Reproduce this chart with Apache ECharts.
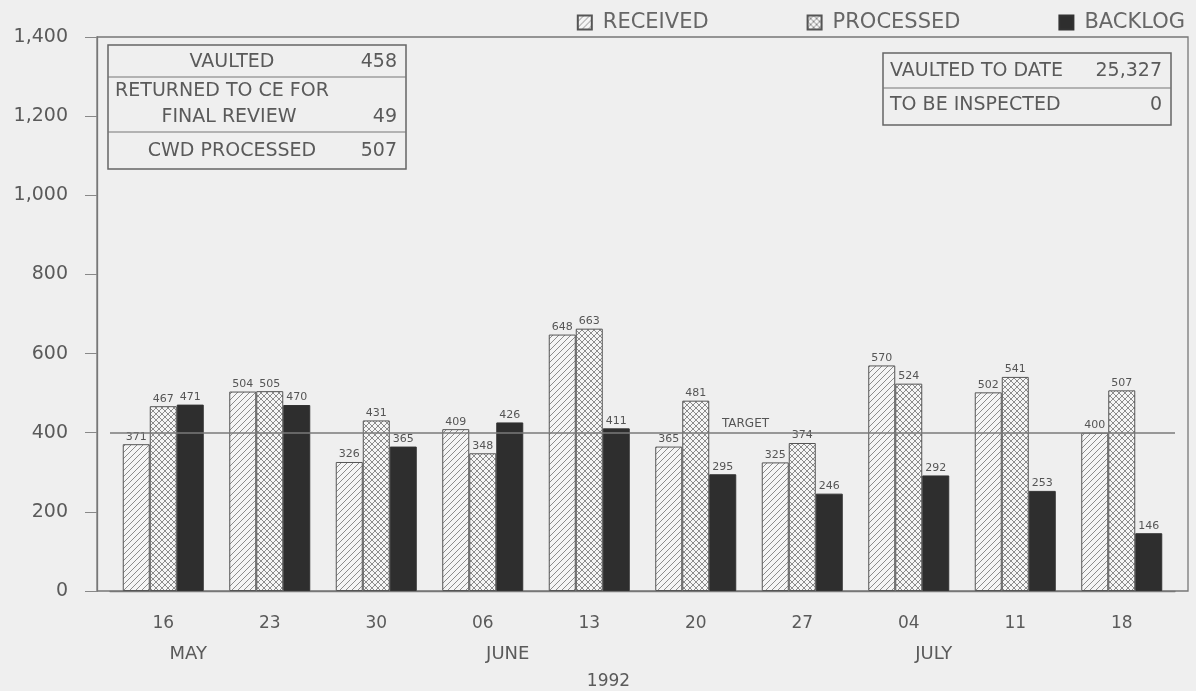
<!DOCTYPE html>
<html>
<head>
<meta charset="utf-8">
<script src="https://cdn.jsdelivr.net/npm/echarts@6/dist/echarts.min.js"></script>
<style>
html,body{margin:0;padding:0;background:#efefef;}
#chart{width:1196px;height:691px;}
</style>
</head>
<body>
<div id="chart"></div>
<script>
// ---- data ----
const days = ['16','23','30','06','13','20','27','04','11','18'];
const months = ['MAY','','','JUNE','','','','JULY','',''];
const yearLabel = '1992';
const received  = [371,504,326,409,648,365,325,570,502,400];
const processed = [467,505,431,348,663,481,374,524,541,507];
const backlog   = [471,470,365,426,411,295,246,292,253,146];
const targetValue = 400;
const yMin = 0, yMax = 1400, yStep = 200;
const leftBoxRows = [['VAULTED','458'],['RETURNED TO CE FOR','FINAL REVIEW','49'],['CWD PROCESSED','507']];
const rightBoxRows = [['VAULTED TO DATE','25,327'],['TO BE INSPECTED','0']];

// ---- patterns ----
function makePattern(cross){
  const s = 6;
  const c = document.createElement('canvas');
  c.width = s; c.height = s;
  const g = c.getContext('2d');
  g.fillStyle = '#f5f5f5';
  g.fillRect(0,0,s,s);
  g.strokeStyle = '#8c8c8c';
  g.lineWidth = 1;
  g.beginPath();
  g.moveTo(-1, s+1); g.lineTo(s+1, -1);
  g.moveTo(-1, 1); g.lineTo(1, -1);
  g.moveTo(s-1, s+1); g.lineTo(s+1, s-1);
  if (cross){
    g.moveTo(-1, -1); g.lineTo(s+1, s+1);
    g.moveTo(s-1, -1); g.lineTo(s+1, 1);
    g.moveTo(-1, s-1); g.lineTo(1, s+1);
  }
  g.stroke();
  return {image: c, repeat: 'repeat'};
}
const hatch = makePattern(false);
const cross = makePattern(true);

const FONT = 'DejaVu Sans';
const TXT = '#5a5a5a';

const chart = echarts.init(document.getElementById('chart'));

const labelStyle = {show:true, position:'top', distance:2, fontFamily:FONT, fontSize:11, color:'#555'};

function boxGraphics(){
  const els = [];
  const f = '19px "' + FONT + '"';
  // left box
  els.push({type:'rect', shape:{x:108,y:45,width:298,height:124}, style:{fill:'none', stroke:'#666', lineWidth:1.5}, z:10});
  els.push({type:'line', shape:{x1:108,y1:77,x2:406,y2:77}, style:{stroke:'#777', lineWidth:1.2}, z:10});
  els.push({type:'line', shape:{x1:108,y1:132,x2:406,y2:132}, style:{stroke:'#777', lineWidth:1.2}, z:10});
  els.push({type:'text', style:{text:leftBoxRows[0][0], x:232, y:62, font:f, fill:TXT, align:'center', verticalAlign:'middle'}, z:11});
  els.push({type:'text', style:{text:leftBoxRows[0][1], x:397, y:62, font:f, fill:TXT, align:'right', verticalAlign:'middle'}, z:11});
  els.push({type:'text', style:{text:leftBoxRows[1][0], x:222, y:91, font:f, fill:TXT, align:'center', verticalAlign:'middle'}, z:11});
  els.push({type:'text', style:{text:leftBoxRows[1][1], x:229, y:117, font:f, fill:TXT, align:'center', verticalAlign:'middle'}, z:11});
  els.push({type:'text', style:{text:leftBoxRows[1][2], x:397, y:117, font:f, fill:TXT, align:'right', verticalAlign:'middle'}, z:11});
  els.push({type:'text', style:{text:leftBoxRows[2][0], x:232, y:151, font:f, fill:TXT, align:'center', verticalAlign:'middle'}, z:11});
  els.push({type:'text', style:{text:leftBoxRows[2][1], x:397, y:151, font:f, fill:TXT, align:'right', verticalAlign:'middle'}, z:11});
  // right box
  els.push({type:'rect', shape:{x:883,y:53,width:288,height:72}, style:{fill:'none', stroke:'#666', lineWidth:1.5}, z:10});
  els.push({type:'line', shape:{x1:883,y1:88,x2:1171,y2:88}, style:{stroke:'#777', lineWidth:1.2}, z:10});
  els.push({type:'text', style:{text:rightBoxRows[0][0], x:890, y:71, font:f, fill:TXT, align:'left', verticalAlign:'middle'}, z:11});
  els.push({type:'text', style:{text:rightBoxRows[0][1], x:1162, y:71, font:f, fill:TXT, align:'right', verticalAlign:'middle'}, z:11});
  els.push({type:'text', style:{text:rightBoxRows[1][0], x:890, y:105, font:f, fill:TXT, align:'left', verticalAlign:'middle'}, z:11});
  els.push({type:'text', style:{text:rightBoxRows[1][1], x:1162, y:105, font:f, fill:TXT, align:'right', verticalAlign:'middle'}, z:11});
  // outer frame
  els.push({type:'rect', shape:{x:97,y:37,width:1091,height:554}, style:{fill:'none', stroke:'#777', lineWidth:1.3}, z:0, silent:true});
  return els;
}

const option = {
  backgroundColor:'#efefef',
  animation:false,
  textStyle:{fontFamily:FONT},
  legend:{
    right:6, top:7, icon:'rect',
    itemWidth:14, itemHeight:14, itemGap:98,
    textStyle:{fontFamily:FONT, fontSize:21, color:'#666', padding:[0,0,0,6]},
    data:['RECEIVED','PROCESSED','BACKLOG']
  },
  grid:{left:110, right:21, top:37, bottom:100, outerBoundsMode:'none', containLabel:false},
  xAxis:{
    type:'category',
    data:days,
    axisLine:{lineStyle:{color:'#777', width:1.3}},
    axisTick:{alignWithLabel:true, length:15, lineStyle:{color:'#888'}},
    axisLabel:{
      margin:18,
      formatter:function(v, i){ return '{d|' + v + '}\n{m|' + (months[i] || ' ') + '}'; },
      rich:{
        d:{fontFamily:FONT, fontSize:17, color:TXT, lineHeight:30},
        m:{fontFamily:FONT, fontSize:18, color:TXT, lineHeight:30, padding:[0,0,0,50]}
      }
    },
    name:yearLabel,
    nameLocation:'middle',
    nameGap:82,
    nameTextStyle:{fontFamily:FONT, fontSize:17, color:TXT, padding:[0,68,0,0]}
  },
  yAxis:{
    type:'value',
    min:yMin, max:yMax, interval:yStep,
    offset:13,
    axisLine:{show:true, lineStyle:{color:'#777', width:1.3}},
    axisTick:{show:true, length:12, lineStyle:{color:'#888'}},
    splitLine:{show:false},
    axisLabel:{
      margin:29, fontFamily:FONT, fontSize:19, color:TXT,
      formatter:function(v){ return v.toLocaleString('en-US'); }
    }
  },
  series:[
    {
      name:'RECEIVED', type:'bar', data:received, barWidth:27, barGap:'0%',
      itemStyle:{color:hatch, borderColor:'#555', borderWidth:1},
      label:labelStyle,
      markLine:{
        silent:true, symbol:['none','none'],
        lineStyle:{color:'#7a7a7a', width:1.6, type:'solid'},
        label:{show:true, formatter:'TARGET', position:'insideMiddleTop', fontFamily:FONT, fontSize:12, color:'#555', padding:[0,0,0,206], distance:3},
        data:[{yAxis:targetValue}]
      }
    },
    {
      name:'PROCESSED', type:'bar', data:processed, barWidth:27, barGap:'0%',
      itemStyle:{color:cross, borderColor:'#555', borderWidth:1},
      label:labelStyle
    },
    {
      name:'BACKLOG', type:'bar', data:backlog, barWidth:27, barGap:'0%',
      itemStyle:{color:'#2e2e2e', borderColor:'#333', borderWidth:1},
      label:labelStyle
    }
  ],
  graphic:boxGraphics()
};
chart.setOption(option);
</script>
</body>
</html>
